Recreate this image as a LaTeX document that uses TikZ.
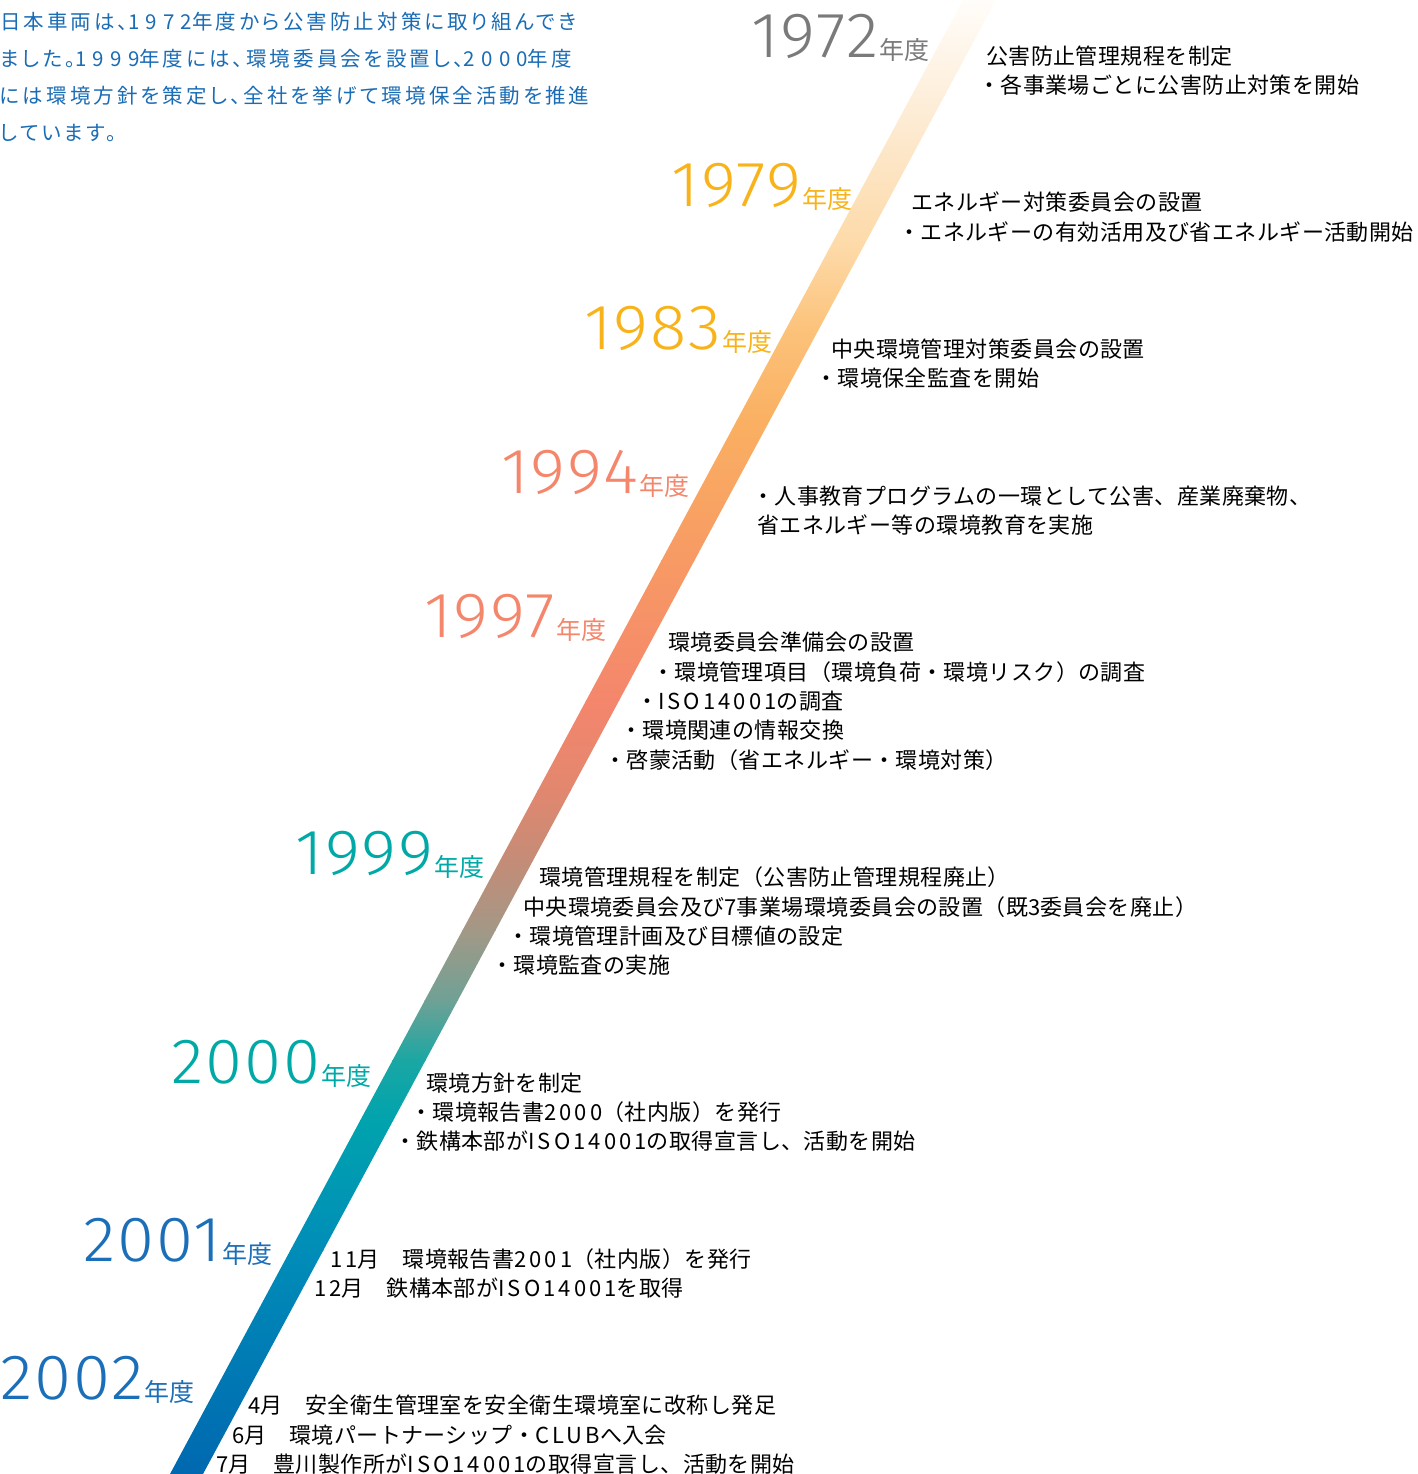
\documentclass[tikz,border=0pt]{standalone}
\usepackage{fontspec}
\setmainfont{Noto Sans CJK JP}
\newfontfamily\jp{Noto Sans CJK JP}
\newfontfamily\bodyfont[LetterSpace=2]{Noto Sans CJK JP}
\newfontfamily\jplat[LetterSpace=14]{Noto Sans CJK JP}
\newfontfamily\introfont[LetterSpace=15,RawFeature=+palt]{Noto Sans CJK JP}
\newfontfamily\introdig[LetterSpace=30]{Noto Sans CJK JP}
\newfontfamily\yearfont[UprightFont={* Light},FakeStretch=1.05,LetterSpace=3]{Fira Sans}
\newcommand{\dg}[1]{{\jplat #1}}
\newcommand{\idg}[1]{{\introdig #1}}
\definecolor{yrgrey}{HTML}{7A7A7A}
\definecolor{yrgold}{HTML}{F8B31B}
\definecolor{yrsalmon}{HTML}{F4866C}
\definecolor{yrteal}{HTML}{00A9A6}
\definecolor{yrblue}{HTML}{1B6EB8}
\definecolor{introblue}{HTML}{1A6CB5}
\definecolor{b0}{HTML}{FFFDFA}
\definecolor{b1}{HTML}{FDEBD3}
\definecolor{b2}{HTML}{FDD9A6}
\definecolor{b3}{HTML}{FCC27A}
\definecolor{b4}{HTML}{FAB062}
\definecolor{b5}{HTML}{F79A64}
\definecolor{b6}{HTML}{F4866C}
\definecolor{b7}{HTML}{E2876F}
\definecolor{b8}{HTML}{C48C77}
\definecolor{b9}{HTML}{A39886}
\definecolor{b10}{HTML}{6FA196}
\definecolor{b11}{HTML}{1AA7A3}
\definecolor{b12}{HTML}{00A3AE}
\definecolor{b13}{HTML}{008DB8}
\definecolor{b14}{HTML}{0068B0}
\tikzset{
  yr/.style={font=\yearfont\fontsize{64}{64}\selectfont, inner sep=0pt, anchor=base east},
  nendo/.style={font=\jp\fontsize{25}{25}\selectfont, inner sep=0pt, anchor=base east},
  body/.style={font=\bodyfont\fontsize{22}{22}\selectfont, inner sep=0pt, anchor=west, text=black},
  intro/.style={font=\introfont\fontsize{20.5}{20.5}\selectfont, inner sep=0pt, anchor=west, text=introblue},
}
\begin{document}
\begin{tikzpicture}[x=1pt,y=-1pt]
\useasboundingbox (0,0) rectangle (1417,1474);
% gradient band
\foreach \ya/\yb/\ca/\cb in {0/120/b0/b1,120/250/b1/b2,250/330/b2/b3,330/420/b3/b4,420/560/b4/b5,560/700/b5/b6,700/790/b6/b7,790/860/b7/b8,860/930/b8/b9,930/1000/b9/b10,1000/1060/b10/b11,1060/1120/b11/b12,1120/1250/b12/b13,1250/1474/b13/b14}{
  \shade[top color=\ca, bottom color=\cb]
    ({996-0.538*\ya},\ya) -- ({963-0.538*\ya},\ya) -- ({963-0.538*(\yb+1)},{\yb+1}) -- ({996-0.538*(\yb+1)},{\yb+1}) -- cycle;
}
% intro text
\node[intro] (i1) at (0,22) {日本車両は、\idg{1972}年度から公害防止対策に取り組んでき};
\node[intro] (i2) at (0,59) {ました。\idg{1999}年度には、環境委員会を設置し、\idg{2000}年度};
\node[intro] (i3) at (0,96) {には環境方針を策定し、全社を挙げて環境保全活動を推進};
\node[intro] (i4) at (0,133) {しています。};
% year labels
\foreach \yy/\col/\xr/\yb in {1972/yrgrey/930/62,1979/yrgold/853/210,1983/yrgold/773/353,1994/yrsalmon/690/497,1997/yrsalmon/607/641,1999/yrteal/485/878,2000/yrteal/372/1087,2001/yrblue/273/1265,2002/yrblue/195/1403}{
  \node[nendo, text=\col] (n\yy) at (\xr,\yb-2) {年度};
  \node[yr, text=\col] (y\yy) at ([xshift=-1pt,yshift=2pt]n\yy.base west) {\yy};
}
% 1972
\node[body] (a1) at (986,56) {公害防止管理規程を制定};
\node[body] (a2) at (978,85) {・各事業場ごとに公害防止対策を開始};
% 1979
\node[body] (b1n) at (911,202) {エネルギー対策委員会の設置};
\node[body] (b2n) at (898,232) {・エネルギーの有効活用及び省エネルギー活動開始};
% 1983
\node[body] (c1) at (831,349) {中央環境管理対策委員会の設置};
\node[body] (c2) at (815,378) {・環境保全監査を開始};
% 1994
\node[body] (d1) at (752,496) {・人事教育プログラムの一環として公害、産業廃棄物、};
\node[body] (d2) at (757,525) {省エネルギー等の環境教育を実施};
% 1997
\node[body] (e1) at (668,642) {環境委員会準備会の設置};
\node[body] (e2) at (652,672) {・環境管理項目（環境負荷・環境リスク）の調査};
\node[body] (e3) at (636,701) {・\dg{ISO14001}の調査};
\node[body] (e4) at (620,730) {・環境関連の情報交換};
\node[body] (e5) at (604,760) {・啓蒙活動（省エネルギー・環境対策）};
% 1999
\node[body] (f1) at (539,877) {環境管理規程を制定（公害防止管理規程廃止）};
\node[body] (f2) at (523,907) {中央環境委員会及び\dg{7}事業場環境委員会の設置（既\dg{3}委員会を廃止）};
\node[body] (f3) at (507,936) {・環境管理計画及び目標値の設定};
\node[body] (f4) at (491,965) {・環境監査の実施};
% 2000
\node[body] (g1) at (426,1083) {環境方針を制定};
\node[body] (g2) at (410,1112) {・環境報告書\dg{2000}（社内版）を発行};
\node[body] (g3) at (394,1141) {・鉄構本部が\dg{ISO14001}の取得宣言し、活動を開始};
% 2001
\node[body] (h1) at (330,1259) {\dg{11}月　環境報告書\dg{2001}（社内版）を発行};
\node[body] (h2) at (314,1288) {\dg{12}月　鉄構本部が\dg{ISO14001}を取得};
% 2002
\node[body] (k1) at (248,1405) {\dg{4}月　安全衛生管理室を安全衛生環境室に改称し発足};
\node[body] (k2) at (232,1435) {\dg{6}月　環境パートナーシップ・\dg{CLUB}へ入会};
\node[body] (k3) at (216,1464) {\dg{7}月　豊川製作所が\dg{ISO14001}の取得宣言し、活動を開始};
\end{tikzpicture}
\end{document}
